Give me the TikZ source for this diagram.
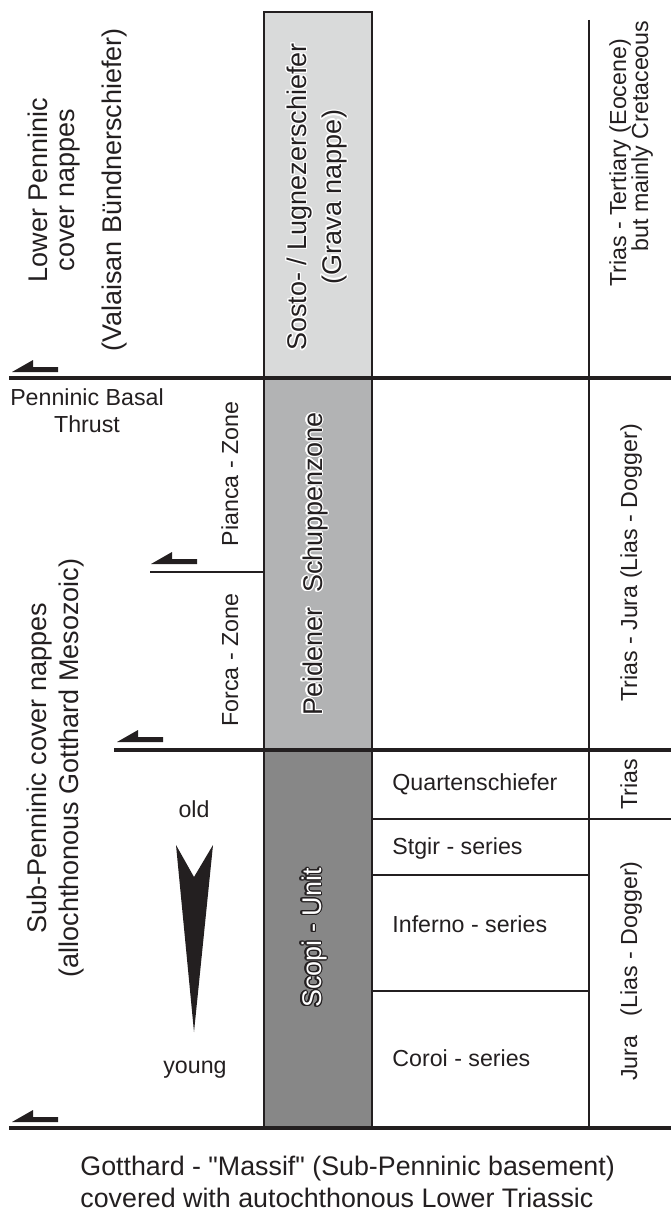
\documentclass[tikz,border=0pt]{standalone}
\usepackage{fontspec}
\setmainfont{Liberation Sans}[Ligatures=TeXOff]
\usepackage{contour}
\contourlength{0.6pt}
\definecolor{linecol}{RGB}{35,31,32}
\definecolor{palegray}{RGB}{217,218,218}
\definecolor{midgray}{RGB}{178,179,180}
\definecolor{scopigray}{RGB}{135,135,135}
\tikzstyle{every node}=[inner sep=0pt, text=linecol]
\tikzstyle{big}=[font=\fontsize{13.5pt}{13.5pt}\selectfont]
\tikzstyle{small}=[font=\fontsize{11.6pt}{13.5pt}\selectfont]
\tikzstyle{vert}=[rotate=90]
\tikzstyle{band}=[draw=linecol, line width=0.6pt]
\tikzstyle{cellline}=[draw=linecol, line width=0.7pt]
\tikzstyle{heavy}=[draw=linecol, line width=1.9pt]
\tikzset{thrust/.pic={\fill[linecol] (0,0) -- (21,-12) -- (21,-5) -- (46,-5) -- (46,0) -- cycle;}}

\begin{document}
\begin{tikzpicture}[x=0.5pt, y=-0.5pt]
    \useasboundingbox (0,0) rectangle (671,1219);
    % grey column
    \path[band, fill=palegray]  (264,12)  rectangle (372,378);
    \path[band, fill=midgray]   (264,378) rectangle (372,750);
    \path[band, fill=scopigray] (264,750) rectangle (372,1128);
    % table lines
    \draw[cellline] (589,20) -- (589,1128);
    \draw[cellline] (150,572) -- (264,572);
    \draw[cellline] (372,819) -- (671,819);
    \draw[cellline] (372,875) -- (589,875);
    \draw[cellline] (372,991) -- (589,991);
    \draw[heavy] (9,378) -- (671,378);
    \draw[heavy] (114,750) -- (671,750);
    \draw[heavy] (9,1128) -- (671,1128);
    \pic at (12,372) {thrust};
    \pic at (151,564) {thrust};
    \pic at (117,742) {thrust};
    \pic at (12,1122) {thrust};
    % age arrow
    \fill[linecol] (176,845) -- (194,877) -- (213,845) -- (194,1032) -- cycle;

    \node[big, vert, align=center] (lowerpen) at (77.5,190) {Lower Penninic\\cover nappes\\[10pt](Valaisan Bündnerschiefer)};
    \node[big, vert, align=center, font=\fontsize{13.5pt}{16pt}\selectfont] (subpen) at (56,768) {Sub-Penninic cover nappes\\(allochthonous Gotthard Mesozoic)};
    \node[small, align=center] (basal) at (87,411) {Penninic Basal\\Thrust};
    \node[small, vert, anchor=base] (pianca) at (238,474) {Pianca - Zone};
    \node[small, vert, anchor=base] (forca) at (238,660) {Forca - Zone};
    \node[small, anchor=base] (old) at (194,817) {old};
    \node[small, anchor=base] (young) at (195,1073) {young};

    \node[big, vert, align=center, font=\fontsize{13.5pt}{17.5pt}\selectfont] (sosto) at (317.5,197) {\contour{white}{Sosto- / Lugnezerschiefer}\\\contour{white}{(Grava nappe)}};
    \node[big, vert, anchor=base] (peidener) at (322,564) {\contour{white}{Peidener\ \ Schuppenzone}};
    \node[big, vert, anchor=base] (scopi) at (321,938) {\textcolor{white}{\contour{linecol}{Scopi - Unit}}};

    \node[small, anchor=base west] (quarten) at (392,790) {Quartenschiefer};
    \node[small, anchor=base west] (stgir) at (392,854) {Stgir - series};
    \node[small, anchor=base west] (inferno) at (392,932) {Inferno - series};
    \node[small, anchor=base west] (coroi) at (392,1066) {Coroi - series};

    \node[small, vert, anchor=base] (tertiary) at (626,163) {Trias - Tertiary (Eocene)};
    \node[small, vert, anchor=base] (cretaceous) at (648,136) {but mainly Cretaceous};
    \node[small, vert, anchor=base] (triasjura) at (637,563) {Trias - Jura (Lias - Dogger)};
    \node[small, vert, anchor=base] (trias) at (637,784) {Trias};
    \node[small, vert, anchor=base] (jura) at (637,971) {Jura\ \ \ (Lias - Dogger)};

    \node[align=left, anchor=west, font=\fontsize{13.4pt}{16pt}\selectfont] (caption) at (80,1182) {Gotthard - "Massif" (Sub-Penninic basement)\\covered with autochthonous Lower Triassic};
\end{tikzpicture}
\end{document}
